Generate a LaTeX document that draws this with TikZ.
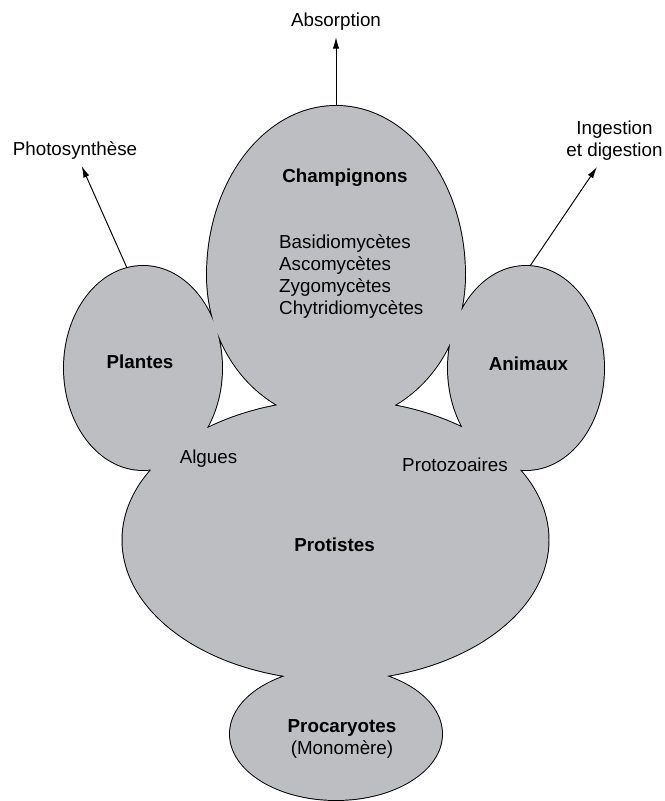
\documentclass[tikz,border=0pt]{standalone}
\usepackage{fontspec}
\setmainfont{Liberation Sans}
\usetikzlibrary{arrows.meta}
\definecolor{mgray}{RGB}{189, 190, 193}
\tikzset{rim/.style = {draw, line width = 1.1pt}}
\tikzset{cell/.style = {fill = mgray}}
\tikzset{arr/.style = {-{Latex[length = 6.5pt, width = 3.6pt]}, line width = 0.55pt}}
\tikzset{bold/.style = {font = \fontsize{10.7}{12.6}\selectfont\bfseries}}

\begin{document}
\begin{tikzpicture}[x = 0.02cm, y = 0.02cm, font = \fontsize{10.7}{12.6}\selectfont]
    \useasboundingbox (0, 0) rectangle (664, 801);

    % outline first, then the grey on top: only the outer rim stays
    \foreach \look in {rim, cell}
      \path [\look] (143, 433) ellipse [x radius = 79, y radius = 102]
                    (526, 433) ellipse [x radius = 78, y radius = 102]
                    (335.5, 261) ellipse [x radius = 213, y radius = 140]
                    (336, 67) ellipse [x radius = 106, y radius = 66]
                    (465, 526) arc [start angle = 0, end angle = 180, x radius = 129, y radius = 169]
                               arc [start angle = 180, end angle = 360, x radius = 129, y radius = 146] -- cycle;

    \coordinate (champignons top) at (336, 695);
    \coordinate (plantes top) at (127, 533);
    \coordinate (animaux top) at (530, 535);

    \node [anchor = base] (absorption) at (336, 774) {Absorption};
    \node [anchor = base] (photosynthese) at (75, 645) {Photosynthèse};
    \node [anchor = base, align = center] (ingestion) at (614.5, 644) {Ingestion\\et digestion};

    \node [bold, anchor = base] (champignons) at (345, 618) {Champignons};
    \node [anchor = base west, align = left] (groupes) at (273, 486)
      {Basidiomycètes\\Ascomycètes\\Zygomycètes\\Chytridiomycètes};
    \node [bold, anchor = base] (plantes) at (140, 432) {Plantes};
    \node [bold, anchor = base] (animaux) at (528.5, 430) {Animaux};
    \node [anchor = base] (algues) at (208.5, 337) {Algues};
    \node [anchor = base] (protozoaires) at (455, 329) {Protozoaires};
    \node [bold, anchor = base] (protistes) at (334.5, 249) {Protistes};
    \node [anchor = base, align = center] (procaryotes) at (342, 46) {\bfseries Procaryotes\\(Monomère)};

    \draw [arr] (champignons top) -- (absorption);
    \draw [arr] (plantes top) -- (photosynthese);
    \draw [arr] (animaux top) -- (ingestion);
\end{tikzpicture}
\end{document}
